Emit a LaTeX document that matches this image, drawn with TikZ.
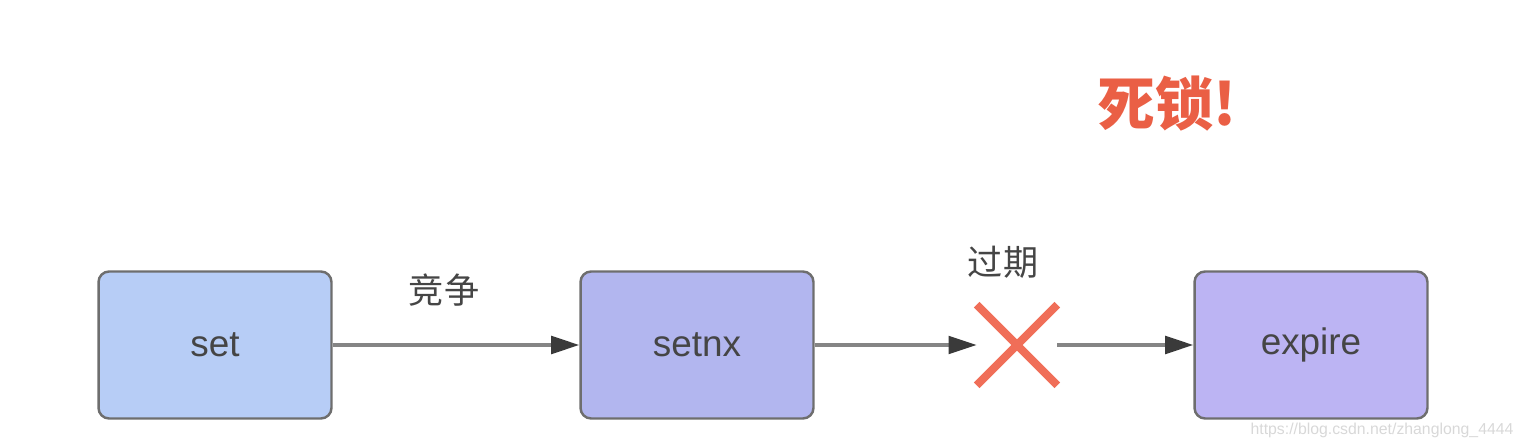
\documentclass[tikz,border=0pt]{standalone}
\usepackage{fontspec}
\setmainfont{Liberation Sans}
\newfontfamily\cjk{Noto Sans CJK SC}
\usepackage{tikz}
\usetikzlibrary{positioning}
\usetikzlibrary{arrows.meta}
\usepackage{xcolor}
\definecolor{setblue}{HTML}{B7CDF6}
\definecolor{setnxblue}{HTML}{B2B6EF}
\definecolor{expirepurple}{HTML}{BCB4F3}
\definecolor{boxgray}{HTML}{6E6E6E}
\definecolor{textgray}{HTML}{454545}
\definecolor{linegray}{HTML}{858585}
\definecolor{tipgray}{HTML}{3A3A3A}
\definecolor{crossred}{HTML}{F06E58}
\definecolor{lockred}{HTML}{EA5F45}
\definecolor{markgray}{HTML}{D8D8D8}
\tikzset{
	box/.style={draw=boxgray, line width=1.4pt, rounded corners=6pt, minimum width=4.66cm, minimum height=2.94cm, text=textgray, font=\fontsize{21}{25}\selectfont},
	link/.style={draw=linegray, line width=2pt, -{Triangle[length=16pt, width=10pt, color=tipgray]}},
	crossline/.style={draw=crossred, line width=4.5pt},
	tag/.style={text=textgray, font=\cjk\fontsize{20}{24}\selectfont}
}

\begin{document}
\begin{tikzpicture}[x=0.02cm, y=-0.02cm]
				    		\useasboundingbox (0, 0) rectangle (1524, 448);
				    		\node[box, fill=setblue] (set) at (215, 345) {set};
				    		\node[box, fill=setnxblue] (setnx) at (697, 345) {setnx};
				    		\node[box, fill=expirepurple] (expire) at (1311, 345) {expire};
				    		\node[minimum size=1.6cm, inner sep=0pt] (cross) at (1017, 345) {};
				    		\draw[crossline] (cross.north west)--(cross.south east);
				    		\draw[crossline] (cross.south west)--(cross.north east);
				    		\draw[link] (set)--(setnx);
				    		\draw[link] (setnx)--(cross);
				    		\draw[link] (cross)--(expire);
				    		\node[tag] (compete) at (444, 290) {竞争};
				    		\node[tag] (expired) at (1003, 262) {过期};
				    		\node[text=lockred, font=\cjk\bfseries\fontsize{33}{38}\selectfont] (deadlock) at (1167, 104) {死锁!};
				    		\node[text=markgray, font=\fontsize{9}{10}\selectfont] (mark) at (1382, 430) {https://blog.csdn.net/zhanglong\_4444};
						\end{tikzpicture}
\end{document}
